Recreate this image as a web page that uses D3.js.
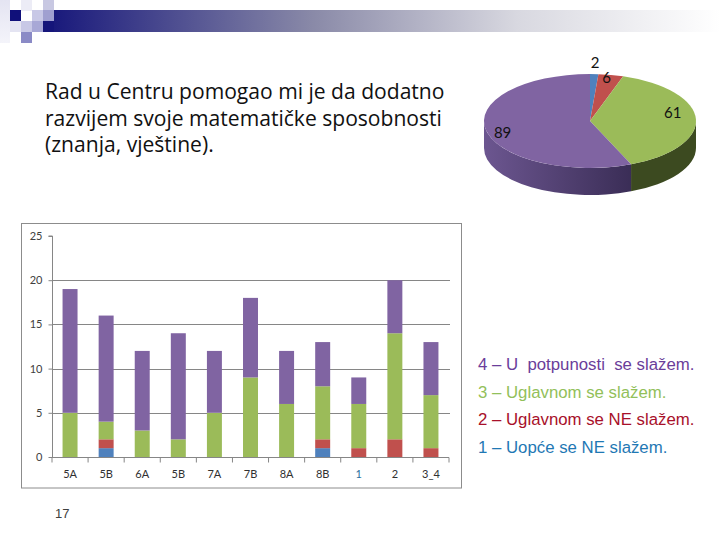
<!DOCTYPE html>
<html lang="hr">
<head>
<meta charset="UTF-8">
<title>Rad u Centru</title>
<script src="https://d3js.org/d3.v7.min.js"></script>
<style>
  body { margin: 0; background: #fff; }
  svg { display: block; }
</style>
</head>
<body>
<div id="slide"></div>
<script>
// ---------------- data ----------------
const razredi = ["5A", "5B", "6A", "5B", "7A", "7B", "8A", "8B", "1", "2", "3_4"];
const odgovor1 = [0, 1, 0, 0, 0, 0, 0, 1, 0, 0, 0];   // Uopće se NE slažem
const odgovor2 = [0, 1, 0, 0, 0, 0, 0, 1, 1, 2, 1];   // Uglavnom se NE slažem
const odgovor3 = [5, 2, 3, 2, 5, 9, 6, 6, 5, 12, 6];  // Uglavnom se slažem
const odgovor4 = [14, 12, 9, 12, 7, 9, 6, 5, 3, 6, 6]; // U potpunosti se slažem
const yTicks = [0, 5, 10, 15, 20, 25];
const ukupno = [2, 6, 61, 89];
const legenda = [
  "4 – U  potpunosti  se slažem.",
  "3 – Uglavnom se slažem.",
  "2 – Uglavnom se NE slažem.",
  "1 – Uopće se NE slažem."
];
const naslov = [
  "Rad u Centru pomogao mi je da dodatno",
  "razvijem svoje matematičke sposobnosti",
  "(znanja, vještine)."
];

const boje = ["#4F81BD", "#C0504D", "#9BBB59", "#8064A2"];

const svg = d3.select("#slide").append("svg").attr("width", 720).attr("height", 540);
const defs = svg.append("defs");

// ---------------- header decoration ----------------
const hg = defs.append("linearGradient").attr("id", "traka");
hg.append("stop").attr("offset", "0%").attr("stop-color", "#15157a");
hg.append("stop").attr("offset", "40%").attr("stop-color", "#8a8aa8");
hg.append("stop").attr("offset", "70%").attr("stop-color", "#d8d8e0");
hg.append("stop").attr("offset", "100%").attr("stop-color", "#ffffff");
svg.append("rect").attr("x", 43).attr("y", 10).attr("width", 677).attr("height", 22).attr("fill", "url(#traka)");

const lg = defs.append("linearGradient").attr("id", "lijevo").attr("x1", 0).attr("y1", 0).attr("x2", 0).attr("y2", 1);
lg.append("stop").attr("offset", "0%").attr("stop-color", "#e4e4f2");
lg.append("stop").attr("offset", "100%").attr("stop-color", "#f4f4fa");
svg.append("rect").attr("x", 0).attr("y", 0).attr("width", 10).attr("height", 43).attr("fill", "url(#lijevo)");

const kvadrati = [
  [10, 10, "#10107a"], [21, 21, "#c8c8e6"], [21, 32, "#8a8ac6"],
  [32, 10, "#c8c8e6"], [32, 21, "#a8a8d6"], [43, 0, "#c8c8e2"],
  [43, 10, "#a0a0d0"], [43, 21, "#15157a"], [21, 0, "#ececf6"], [10, 21, "#e4e4f2"]
];
svg.selectAll("rect.kv").data(kvadrati).join("rect").attr("class", "kv")
  .attr("x", d => d[0]).attr("y", d => d[1]).attr("width", 11).attr("height", 11)
  .attr("fill", d => d[2]);

// ---------------- question text ----------------
// font size chosen so that the widest line spans ~397px like the original
const naslovTxt = svg.append("g").selectAll("text").data(naslov).join("text")
  .attr("x", 45).attr("y", (d, i) => 99 + i * 26.5)
  .attr("font-family", "'Open Sans', Lato, sans-serif").attr("font-size", 20)
  .attr("fill", "#111").text(d => d);
const sirina = naslovTxt.nodes()[1].getComputedTextLength();
naslovTxt.attr("font-size", 20 * 397 / sirina);

// ---------------- 3D pie ----------------
const cx = 590, cy = 121, rx = 106, ry = 47, dubina = 27;
const pie = d3.pie().sort(null).value(d => d)(ukupno);
const tocka = (a, dy = 0) => [cx + rx * Math.sin(a), cy - ry * Math.cos(a) + dy];

const bocnoBoje = [["#3a5f8e", "#2c4a70"], ["#8e3a38", "#6e2c2a"], ["#56692f", "#3c4a20"], ["#6c5690", "#3a2d56"]];
bocnoBoje.forEach((b, i) => {
  const g = defs.append("linearGradient").attr("id", "bok" + i)
    .attr("gradientUnits", "userSpaceOnUse").attr("x1", cx - rx).attr("x2", cx + rx).attr("y1", 0).attr("y2", 0);
  g.append("stop").attr("offset", "0%").attr("stop-color", b[0]);
  g.append("stop").attr("offset", "70%").attr("stop-color", b[1]);
  g.append("stop").attr("offset", "100%").attr("stop-color", b[1]);
});

// side walls: only the part of each slice lying in the front half (pi/2 .. 3pi/2)
const bok = svg.append("g");
pie.forEach((s, i) => {
  const a0 = Math.max(s.startAngle, Math.PI / 2);
  const a1 = Math.min(s.endAngle, 3 * Math.PI / 2);
  if (a1 <= a0) return;
  const p0 = tocka(a0), p1 = tocka(a1), q1 = tocka(a1, dubina), q0 = tocka(a0, dubina);
  const d = `M${p0} A${rx},${ry} 0 0 1 ${p1} L${q1} A${rx},${ry} 0 0 0 ${q0} Z`;
  bok.append("path").attr("d", d).attr("fill", `url(#bok${i})`);
});

// top faces
svg.append("g").selectAll("path").data(pie).join("path")
  .attr("d", s => {
    const p0 = tocka(s.startAngle), p1 = tocka(s.endAngle);
    const veliki = s.endAngle - s.startAngle > Math.PI ? 1 : 0;
    return `M${cx},${cy} L${p0} A${rx},${ry} 0 ${veliki} 1 ${p1} Z`;
  })
  .attr("fill", (s, i) => boje[i]);

// value labels
const labelR = [1.24, 0.93, 0.8, 0.86];
const labelPomak = [0, -0.03, -0.18, -0.09];
const srednji = (s, i) => (s.startAngle + s.endAngle) / 2 + labelPomak[i];
svg.append("g").selectAll("text").data(pie).join("text")
  .attr("x", (s, i) => cx + rx * labelR[i] * Math.sin(srednji(s, i)))
  .attr("y", (s, i) => cy - ry * labelR[i] * Math.cos(srednji(s, i)) + 5)
  .attr("text-anchor", "middle")
  .attr("font-family", "Lato, sans-serif").attr("font-size", 15)
  .attr("fill", "#111").text(s => s.data);

// ---------------- stacked bar chart ----------------
svg.append("rect").attr("x", 21.5).attr("y", 223.5).attr("width", 440).attr("height", 264.5)
  .attr("fill", "#fff").attr("stroke", "#8c8c8c");

const x = d3.scaleBand().domain(d3.range(razredi.length)).range([52, 449])
  .paddingInner(0.585).paddingOuter(0.2925);
const y = d3.scaleLinear().domain([0, 25]).range([457, 236]);

const tablica = razredi.map((r, i) => ({ i, s1: odgovor1[i], s2: odgovor2[i], s3: odgovor3[i], s4: odgovor4[i] }));
const slojevi = d3.stack().keys(["s1", "s2", "s3", "s4"])(tablica);

// gridlines
svg.append("g").selectAll("line").data(yTicks.filter(t => t > 0 && t < 25)).join("line")
  .attr("x1", 52).attr("x2", 450).attr("y1", d => Math.round(y(d)) + 0.5).attr("y2", d => Math.round(y(d)) + 0.5)
  .attr("stroke", "#868686");

svg.append("g").selectAll("g").data(slojevi).join("g")
  .attr("fill", (d, i) => boje[i])
  .selectAll("rect").data(d => d).join("rect")
  .attr("x", d => x(d.data.i)).attr("width", x.bandwidth())
  .attr("y", d => y(d[1])).attr("height", d => y(d[0]) - y(d[1]));

// y axis
const yOs = svg.append("g").attr("transform", "translate(52.5,0)")
  .call(d3.axisLeft(y).tickValues(yTicks).tickSize(4).tickPadding(6));
yOs.select(".domain").attr("stroke", "#868686").attr("d", `M-4,${y(25)}H0V${y(0)}`);
yOs.selectAll(".tick line").attr("stroke", "#868686");
yOs.selectAll(".tick text").attr("font-family", "Lato, sans-serif").attr("font-size", 11).attr("fill", "#404040");

// x axis
const xOs = svg.append("g").attr("transform", `translate(0,${y(0) + 0.5})`);
xOs.append("line").attr("x1", 52).attr("x2", 449).attr("stroke", "#868686");
xOs.selectAll("line.t").data(d3.range(razredi.length + 1)).join("line").attr("class", "t")
  .attr("x1", d => 52 + d * x.step()).attr("x2", d => 52 + d * x.step())
  .attr("y1", 0).attr("y2", 5).attr("stroke", "#868686");
xOs.selectAll("text").data(razredi).join("text")
  .attr("x", (d, i) => x(i) + x.bandwidth() / 2).attr("y", 20)
  .attr("text-anchor", "middle").attr("font-family", "Lato, sans-serif").attr("font-size", 11)
  .attr("fill", d => d === "1" ? "#2a6f9e" : "#303030").text(d => d);

// ---------------- legend ----------------
const legBoje = ["#6a3d9a", "#92c05a", "#a8102a", "#1f78b4"];
svg.append("g").selectAll("text").data(legenda).join("text")
  .attr("x", 478).attr("y", (d, i) => [370, 398, 425, 453][i])
  .attr("font-family", "'Liberation Sans', Arial, sans-serif").attr("font-size", 16.8)
  .attr("fill", (d, i) => legBoje[i]).style("white-space", "pre").text(d => d);

// page number
svg.append("text").attr("x", 55).attr("y", 518)
  .attr("font-family", "'Liberation Sans', Arial, sans-serif").attr("font-size", 13)
  .attr("fill", "#404040").text("17");
</script>
</body>
</html>
